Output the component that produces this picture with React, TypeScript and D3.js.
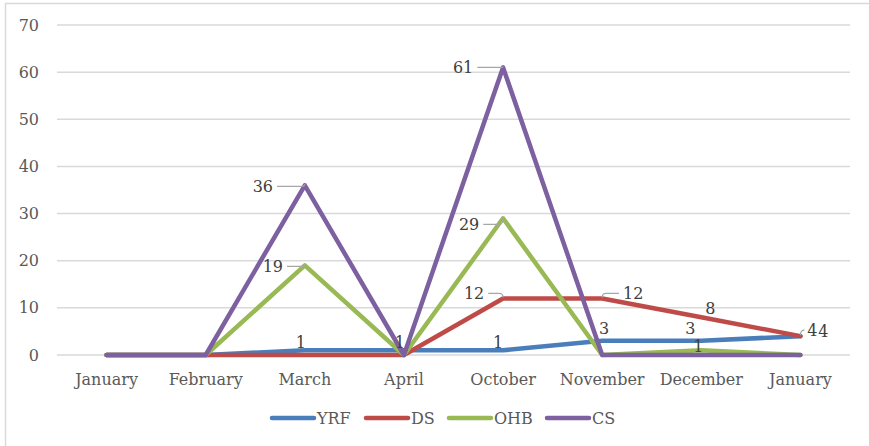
import React, { useEffect, useRef } from 'react'
import * as d3 from 'd3'

const width = 869
const height = 446
const months = ['January', 'February', 'March', 'April', 'October', 'November', 'December', 'January']
const yTicks = [0, 10, 20, 30, 40, 50, 60, 70]

const seriesNames = ['YRF', 'DS', 'OHB', 'CS']
const yrf = [0, 0, 1, 1, 1, 3, 3, 4]
const ds = [0, 0, 0, 0, 12, 12, 8, 4]
const ohb = [0, 0, 19, 0, 29, 0, 1, 0]
const cs = [0, 0, 36, 0, 61, 0, 0, 0]
const colors = ['#4a7ebb', '#be4b48', '#98b954', '#7d60a0']

// where each data label sits relative to its point (series, month index, dx, dy, leader line)
const labelPlacement: [number, number, number, number, boolean][] = [
	[0, 2, -4, -8, false],
	[0, 3, -4, -8, false],
	[0, 4, -5, -8, false],
	[0, 5, 2, -12, false],
	[0, 6, -11, -12, false],
	[0, 7, 23, -5, false],
	[1, 4, -29, -5, true],
	[1, 5, 31, -5, true],
	[1, 6, 9, -9, false],
	[1, 7, 12, -6, true],
	[2, 2, -32, 1, true],
	[2, 4, -34, 6, true],
	[2, 6, -3, -4, false],
	[3, 2, -42, 1, true],
	[3, 4, -40, 0, true],
]

const font = 'DejaVu Serif'
const textColor = '#595959'

export default function App() {
	const svgRef = useRef<SVGSVGElement>(null)

	useEffect(() => {
		const svg = d3.select(svgRef.current)
		svg.selectAll('*').remove()
		const allSeries = [yrf, ds, ohb, cs]

		const x = d3.scaleBand<number>()
			.domain(months.map((_, i) => i))
			.range([57, 850])
			.padding(0)
		const cx = (i: number) => (x(i) as number) + x.bandwidth() / 2
		const y = d3.scaleLinear().domain([0, 70]).range([355, 25])

		// chart border (cropped on the right and bottom)
		svg.append('path')
			.attr('d', `M5.5,${height}V3.5H${width}`)
			.attr('fill', 'none')
			.attr('stroke', '#d9d9d9')
			.attr('stroke-width', 1.5)

		// grid + y labels
		const grid = svg.append('g')
		grid.selectAll('line').data(yTicks).enter().append('line')
			.attr('x1', 57).attr('x2', 850)
			.attr('y1', (d) => y(d)).attr('y2', (d) => y(d))
			.attr('stroke', '#d9d9d9')
			.attr('stroke-width', 1.5)
		grid.selectAll('text').data(yTicks).enter().append('text')
			.attr('x', 39)
			.attr('y', (d) => y(d))
			.attr('dy', '0.35em')
			.attr('text-anchor', 'end')
			.attr('font-family', font)
			.attr('font-size', 16)
			.attr('fill', textColor)
			.text((d) => d)

		// x labels
		svg.append('g').selectAll('text').data(months).enter().append('text')
			.attr('x', (_, i) => cx(i))
			.attr('y', 379)
			.attr('dy', '0.35em')
			.attr('text-anchor', 'middle')
			.attr('font-family', font)
			.attr('font-size', 16)
			.attr('fill', textColor)
			.text((d) => d)

		// lines
		const line = d3.line<number>()
			.x((_, i) => cx(i))
			.y((d) => y(d))
		svg.append('g').selectAll('path').data(allSeries).enter().append('path')
			.attr('d', (d) => line(d))
			.attr('fill', 'none')
			.attr('stroke', (_, i) => colors[i])
			.attr('stroke-width', 4.5)
			.attr('stroke-linejoin', 'round')
			.attr('stroke-linecap', 'round')

		// data labels
		const labels = svg.append('g')
		labelPlacement.forEach(([s, i, dx, dy, leader]) => {
			const v = allSeries[s][i]
			const px = cx(i)
			const py = y(v)
			const tx = px + dx
			const ty = py + dy
			labels.append('text')
				.attr('x', tx)
				.attr('y', ty)
				.attr('dy', '0.35em')
				.attr('text-anchor', 'middle')
				.attr('font-family', font)
				.attr('font-size', 16)
				.attr('fill', '#404040')
				.text(v)
			if (leader) {
				const half = String(v).length * 5.1
				let d
				if (dx < 0) {
					const start = tx + half + 4
					d = `M${start},${ty}H${px - 4}Q${px},${ty} ${px},${py - 1}`
				} else {
					const end = tx - half - 4
					d = `M${px},${py - 1}Q${px},${ty} ${px + 4},${ty}H${end}`
				}
				labels.append('path')
					.attr('d', d)
					.attr('fill', 'none')
					.attr('stroke', '#a6a6a6')
					.attr('stroke-width', 1.2)
			}
		})

		// legend
		const legendX = [272, 366, 449, 547]
		const legend = svg.append('g')
		seriesNames.forEach((name, i) => {
			legend.append('line')
				.attr('x1', legendX[i]).attr('x2', legendX[i] + 42)
				.attr('y1', 418).attr('y2', 418)
				.attr('stroke', colors[i])
				.attr('stroke-width', 4.5)
				.attr('stroke-linecap', 'round')
			legend.append('text')
				.attr('x', legendX[i] + 45)
				.attr('y', 418)
				.attr('dy', '0.35em')
				.attr('font-family', font)
				.attr('font-size', 16)
				.attr('fill', textColor)
				.text(name)
		})
	}, [])

	return (
		<svg ref={svgRef} width={width} height={height}
			style={{ position: 'absolute', left: 0, top: 0, background: 'white' }} />
	)
}
